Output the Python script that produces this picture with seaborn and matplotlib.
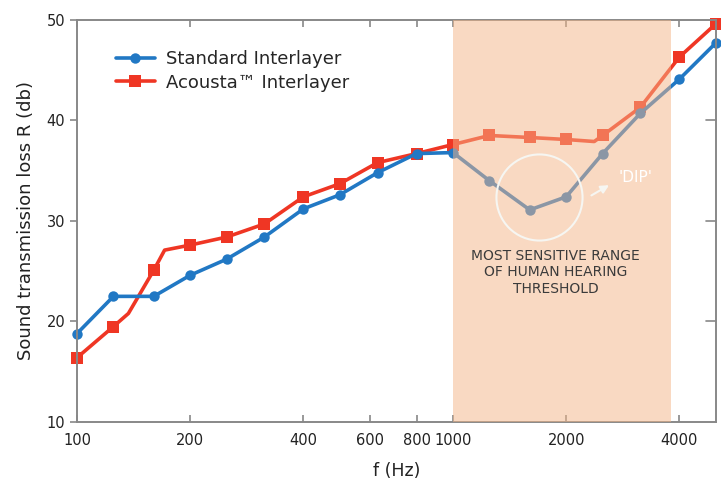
import numpy as np
import pandas as pd
import matplotlib
matplotlib.use("Agg")
import matplotlib.pyplot as plt
from matplotlib.lines import Line2D
from matplotlib.ticker import FixedLocator, FixedFormatter, NullLocator
import seaborn as sns

# third-octave band centre frequencies (Hz)
freq = [100, 125, 160, 200, 250, 315, 400, 500, 630, 800, 1000,
        1250, 1600, 2000, 2500, 3150, 4000, 5000]
standard = [18.8, 22.5, 22.5, 24.6, 26.2, 28.4, 31.2, 32.6, 34.8, 36.7, 36.8,
            34.0, 31.1, 32.4, 36.7, 40.7, 44.1, 47.7]
acousta = [16.4, 19.5, 25.1, 27.6, 28.4, 29.7, 32.4, 33.7, 35.8, 36.7, 37.6,
           38.5, 38.3, 38.1, 38.5, 41.3, 46.3, 49.6]

# extra bends of the Acousta curve (no marker drawn there)
acousta_bend_f = [137, 171, 2375]
acousta_bend_r = [20.8, 27.1, 37.9]

xticks = [100, 200, 400, 600, 800, 1000, 2000, 4000]
xtick_labels = ["100", "200", "400", "600", "800", "1000", "2000", "4000"]
yticks = [10, 20, 30, 40, 50]

blue = "#2178c4"
red = "#ef3624"

sns.set_style("ticks")
plt.rcParams['font.family'] = ['DejaVu Sans']

df_std = pd.DataFrame({"f": freq, "R": standard})
df_ac = pd.DataFrame({"f": freq, "R": acousta, "marker": True})
df_bend = pd.DataFrame({"f": acousta_bend_f, "R": acousta_bend_r, "marker": False})
df_ac_line = pd.concat([df_ac, df_bend]).sort_values("f").reset_index(drop=True)
mark_idx = list(df_ac_line.index[df_ac_line["marker"]])

fig = plt.figure(figsize=(7.21, 4.84), dpi=100)
ax = fig.add_axes([0.1068, 0.128, 0.886, 0.831])

sns.lineplot(data=df_ac_line, x="f", y="R", ax=ax, color=red, linewidth=2.6,
             marker="s", markersize=9, markeredgewidth=0, markevery=mark_idx,
             sort=False, estimator=None, clip_on=False, zorder=2)
sns.lineplot(data=df_std, x="f", y="R", ax=ax, color=blue, linewidth=2.6,
             marker="o", markersize=7.5, markeredgewidth=0,
             sort=False, estimator=None, clip_on=False, zorder=2)

ax.set_xscale("log")
ax.set_xlim(100, 5000)
ax.set_ylim(10, 50)

# most sensitive hearing range, drawn on top of the curves
ax.axvspan(1000, 3800, color="#f5b587", alpha=0.5, lw=0, zorder=3)

# the dip circle + label
ax.plot([1696], [32.4], marker="o", markersize=62, markerfacecolor="none",
        markeredgecolor="#f6f6f2", markeredgewidth=1.5, zorder=4)
ax.text(3054, 34.3, "'DIP'", color="white", fontsize=11, ha="center",
        va="center", zorder=4)
ax.annotate("", xy=(2640, 33.7), xytext=(2300, 32.4),
            arrowprops=dict(arrowstyle="-|>", color="#f6f6f2", lw=1.5,
                            mutation_scale=12), zorder=4)
ax.text(1872, 27.2, "MOST SENSITIVE RANGE\nOF HUMAN HEARING\nTHRESHOLD",
        color="#3b3b3b", fontsize=10, ha="center", va="top",
        multialignment="center", zorder=4)

ax.xaxis.set_major_locator(FixedLocator(xticks))
ax.xaxis.set_major_formatter(FixedFormatter(xtick_labels))
ax.xaxis.set_minor_locator(NullLocator())
ax.set_yticks(yticks)

for s in ax.spines.values():
    s.set_visible(True)
    s.set_color("#888888")
    s.set_linewidth(1.4)

ax.tick_params(axis="x", direction="in", top=True, bottom=True, length=5,
               width=1.2, color="#888888", labelsize=10.5, labelcolor="#222222",
               pad=8)
ax.tick_params(axis="y", direction="out", left=True, right=False, length=5,
               width=1.2, color="#888888", labelsize=10.5, labelcolor="#222222")
# inward ticks on the right side
for y in yticks[1:-1]:
    ax.plot([1, 0.985], [y, y], transform=ax.get_yaxis_transform(),
            color="#888888", lw=1.2, clip_on=False, zorder=5)

ax.set_xlabel("f (Hz)", fontsize=12.5, labelpad=10, color="#222222")
ax.set_ylabel("Sound transmission loss R (db)", fontsize=13, labelpad=8,
              color="#222222")

handles = [
    Line2D([], [], color=blue, lw=2.6, marker="o", markersize=7.5,
           markeredgewidth=0),
    Line2D([], [], color=red, lw=2.6, marker="s", markersize=9,
           markeredgewidth=0),
]
ax.legend(handles, ["Standard Interlayer", "Acousta\u2122 Interlayer"],
          loc="upper left", bbox_to_anchor=(0.035, 0.965), frameon=False,
          fontsize=13, handlelength=2.2, handletextpad=0.6, labelspacing=0.3)

fig.savefig("out.png", dpi=100)
